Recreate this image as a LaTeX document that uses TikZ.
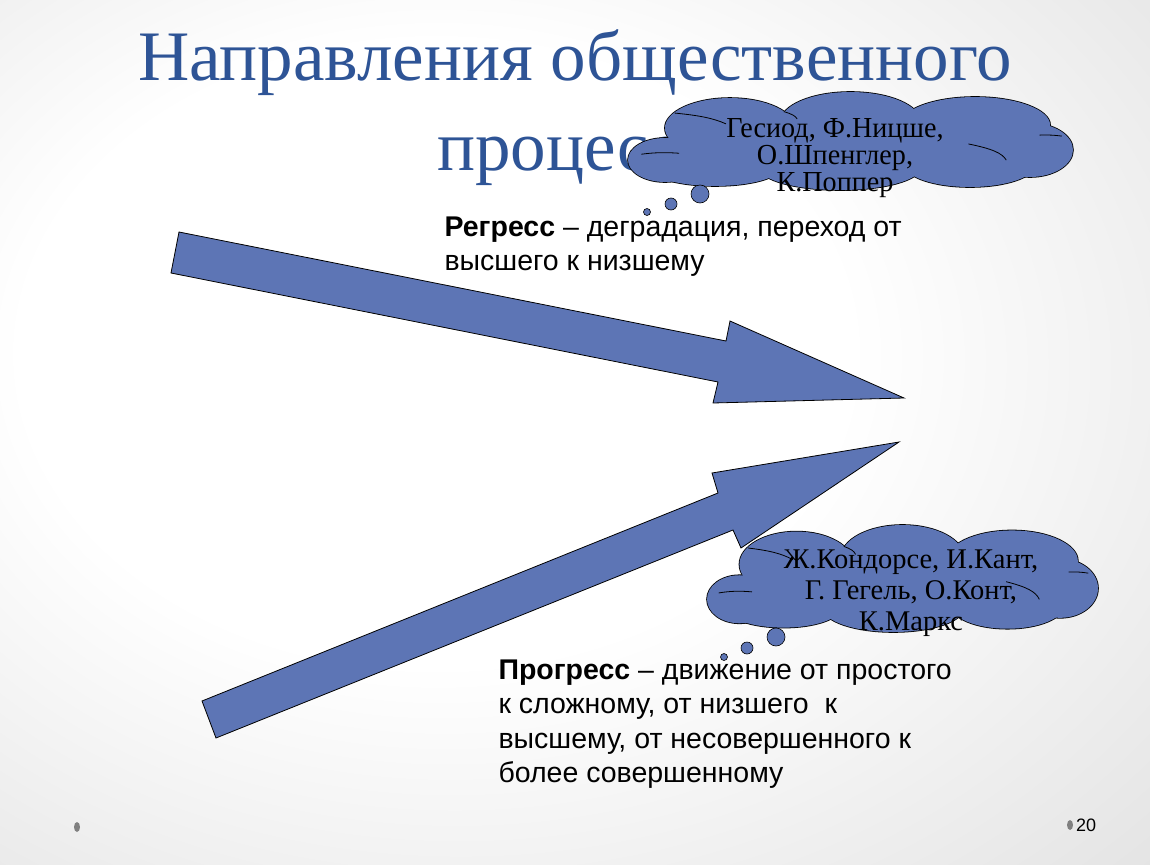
\documentclass[tikz,border=0pt]{standalone}
\usepackage{fontspec}
\setmainfont{Liberation Serif}
\setsansfont{Liberation Sans}
\usetikzlibrary{positioning}
\definecolor{titleblue}{RGB}{46, 84, 150}
\definecolor{shapeblue}{RGB}{93, 117, 181}
\definecolor{bggray}{RGB}{210, 210, 210}
\definecolor{dotgray}{RGB}{128, 128, 128}
\pgfdeclareradialshading{slidebg}{\pgfpoint{-8bp}{6bp}}{color(0bp)=(white); color(18bp)=(white); color(55bp)=(bggray); color(75bp)=(bggray)}
% lobes of the cloud: centre x / centre y / x radius / y radius (unit cloud)
\def\cloudlobes{-0.834/0.388/0.166/0.449, -0.542/-0.265/0.292/0.612, 0/-0.388/0.315/0.612, 0.56/-0.327/0.337/0.571, 0.807/0.184/0.193/0.551, 0.537/0.49/0.292/0.449, -0.047/0.551/0.36/0.449, -0.609/0.551/0.292/0.367}

\tikzset{
  puffedge/.style={draw=black, line width=1.6pt, fill=shapeblue},
  puffline/.style={draw=black, line width=0.8pt},
  thinkcloud/.pic={
    \foreach \cx/\cy/\rx/\ry in \cloudlobes
      \filldraw[puffedge] (\cx,\cy) ellipse [x radius=\rx, y radius=\ry];
    \foreach \cx/\cy/\rx/\ry in \cloudlobes
      \fill[shapeblue] (\cx,\cy) ellipse [x radius=\rx, y radius=\ry];
    \fill[shapeblue] (0,0) ellipse [x radius=0.8, y radius=0.6];
    % inner folds
    \draw[puffline] (-0.94,0.27) to[bend left=25] (-0.77,0.25);
    \draw[puffline] (-0.79,-0.57) to[bend left=20] (-0.56,-0.35);
    \draw[puffline] (0.53,0.06) to[bend left=20] (0.70,0.39);
    \draw[puffline] (0.85,-0.12) to[bend left=20] (0.95,-0.10);
    \draw[puffline] (-0.30,-0.60) to[bend left=15] (-0.24,-0.45);
  }
}

\begin{document}
\begin{tikzpicture}[x=1pt, y=-1pt,
  blockarrow/.style={draw=black, line width=0.8pt, fill=shapeblue, line join=miter},
  cloudtext/.style={align=center, inner sep=0pt},
  bubble/.style={circle, draw=black, line width=0.6pt, fill=shapeblue, inner sep=0pt},
  defn/.style={anchor=north west, align=left, font=\sffamily\fontsize{28.5}{34.5}\selectfont}]

  % Slide background
  \shade[shading=slidebg] (0,0) rectangle (1150,864);
  \useasboundingbox (0,0) rectangle (1150,864);

  % Title
  \node[font=\fontsize{71}{90}\selectfont, text=titleblue, align=center] (title) at (575,108) {Направления общественного\\процесса};

  % Regress arrow
  \filldraw[blockarrow] (179,232) -- (726,341) -- (730,321) -- (904,398) -- (713,403) -- (718,382) -- (171,273) -- cycle;

  % Progress arrow
  \filldraw[blockarrow] (202,701) -- (718,493) -- (712,473) -- (899,442) -- (741,548) -- (733,530) -- (216,738) -- cycle;

  % Definitions
  \node[defn] (regress) at (441,213) {\textbf{Регресс} – деградация, переход от\\высшего к низшему};
  \node[defn] (progress) at (495,656) {\textbf{Прогресс} – движение от простого\\к сложному, от низшего~ к\\высшему, от несовершенного к\\более совершенному};

  % Thinkers of regress
  \path (850.5,141) pic[xscale=222.5, yscale=49] (regcloud) {thinkcloud};
  \node[cloudtext, font=\fontsize{29}{27}\selectfont, xscale=0.97] (regnames) at (835,158) {Гесиод, Ф.Ницше,\\О.Шпенглер,\\К.Поппер};
  \node[bubble, minimum size=18pt] (regb1) at (700,194) {};
  \node[bubble, minimum size=12pt] (regb2) at (671,204) {};
  \node[bubble, minimum size=7pt] (regb3) at (647,212) {};

  % Thinkers of progress
  \path (902.5,578.5) pic[xscale=195.5, yscale=53.5] (progcloud) {thinkcloud};
  \node[cloudtext, font=\fontsize{28.5}{31}\selectfont] (prognames) at (911,593) {Ж.Кондорсе, И.Кант,\\Г. Гегель, О.Конт,\\К.Маркс};
  \node[bubble, minimum size=18pt] (progb1) at (776,637) {};
  \node[bubble, minimum size=12pt] (progb2) at (747,648) {};
  \node[bubble, minimum size=7pt] (progb3) at (724,657) {};

  % Footer
  \fill[dotgray] (77,827) ellipse (3 and 5);
  \fill[dotgray] (1070,825) ellipse (3 and 5);
  \node[anchor=west, inner sep=0pt, font=\sffamily\fontsize{18}{18}\selectfont] (pagenum) at (1076,825) {20};
\end{tikzpicture}
\end{document}
